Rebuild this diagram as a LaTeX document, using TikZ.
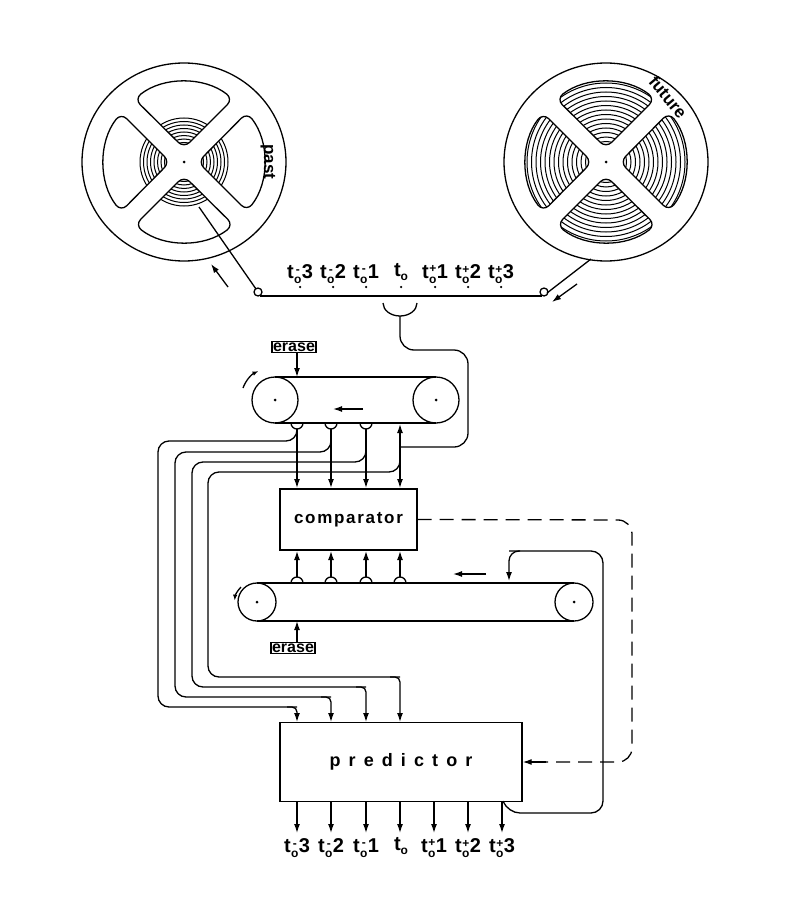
\documentclass[tikz,border=0pt]{standalone}
\usepackage{fontspec}
\setmainfont{Liberation Sans}
\usetikzlibrary{arrows.meta}
\newcommand\subsz{\fontsize{12}{12}\selectfont}
\newcommand\tlab[2]{t\makebox[0.4em][c]{\smash{\raisebox{-0.45ex}{\subsz o}}}\hspace{-0.4em}\makebox[0.4em][c]{\raisebox{0.55ex}{\subsz #1}}#2}
\newcommand\tzero{t\raisebox{-0.45ex}{\subsz o}}
\newcommand\lobepath{(14,0) -- (63,49) arc[start angle=38,end angle=-38,radius=80] -- cycle}
\begin{document}
\begin{tikzpicture}[x=1pt,y=-1pt,line width=1.3pt,
  arr/.style={-{Latex[length=9pt,width=6pt]}},
  lab/.style={font=\bfseries\fontsize{20}{20}\selectfont,inner sep=0pt},
  box/.style={draw,rectangle,inner sep=0pt},
  erase/.style={draw,font=\bfseries\fontsize{16}{16}\selectfont,inner sep=1.2pt,line width=1.3pt},
  dot/.style={circle,fill,inner sep=0pt,minimum size=3pt}]
\useasboundingbox (0,0) rectangle (800,915);
% ---------- past reel
\draw (184,162) ellipse[x radius=102,y radius=99];
\begin{scope}[shift={(184,162)}]
  \foreach \k in {0,90,180,270}{
    \begin{scope}[rotate=\k]
      \draw[rounded corners=8pt] \lobepath;
      \begin{scope}
        \clip[rounded corners=8pt] \lobepath;
        \foreach \r in {16,19.5,...,44} \draw[line width=1pt] (0,0) circle[radius=\r];
      \end{scope}
    \end{scope}}
  \node[dot] at (0,0) {};
\end{scope}
\draw (199,207) -- (256,289);
\node[font=\bfseries\fontsize{17}{17}\selectfont,rotate=-90] (past) at (268,162) {past};
% ---------- future reel
\draw (606,162) ellipse[x radius=102,y radius=99];
\begin{scope}[shift={(606,162)}]
  \foreach \k in {0,90,180,270}{
    \begin{scope}[rotate=\k]
      \draw[rounded corners=8pt] \lobepath;
      \begin{scope}
        \clip[rounded corners=8pt] \lobepath;
        \foreach \r in {16,20.5,...,84} \draw[line width=1pt] (0,0) circle[radius=\r];
      \end{scope}
    \end{scope}}
  \node[dot] at (0,0) {};
\end{scope}
\node[font=\bfseries\fontsize{17}{17}\selectfont,rotate=-50] (future) at (668,97) {future};
% ---------- tape
\draw (258,292) circle[radius=4];
\draw (544,292) circle[radius=4];
\draw (260,296) -- (542,296);
\draw (547,293) -- (591,259);
\draw[arr] (228,287) -- (211,264);
\draw[arr] (577,284) -- (552,302);
\foreach \x/\s/\n in {300/-/3,333/-/2,366/-/1,435/+/1,468/+/2,501/+/3}{
  \node[lab] at (\x,272) {\tlab{\s}{\n}};
  \node[dot,minimum size=2.5pt] at (\x,287) {};}
\node[lab] at (401,272) {\tzero};
\node[dot,minimum size=2.5pt] at (401,287) {};
% tape read head
\draw (383,303) arc[start angle=180,end angle=0,x radius=17,y radius=13];
\draw[rounded corners=14pt] (400,316) -- (400,350) -- (468,350) -- (468,447) -- (400,447);
% ---------- top loop
\draw (275,400) circle[radius=23]; \node[dot] at (275,400) {};
\draw (436,400) circle[radius=23]; \node[dot] at (436,400) {};
\draw (275,377) -- (436,377); \draw (275,423) -- (436,423);
\draw[arr] (363,409) -- (333,409);
\draw[-{Latex[length=6pt,width=4.5pt]}] (243,388) arc[start angle=200,end angle=245,radius=30];
\node[erase] (erase1) at (294,347) {erase};
\draw[arr] (erase1.south -| 297,0) -- (297,377);
\foreach \x in {297,331,366}{
  \draw (\x-6,423) arc[start angle=180,end angle=0,radius=6];
  \draw[arr] (\x,429) -- (\x,488);}
\draw[arr] (400,447) -- (400,424);
\draw[arr] (400,445) -- (400,488);
% comparator
\node[box,minimum width=137pt,minimum height=61pt,font=\bfseries\fontsize{17}{17}\selectfont\addfontfeature{LetterSpace=10}] (comp) at (348.5,519.5) {comparator};
% loops to predictor
\draw[rounded corners=11pt] (297,429) -- (297,441) -- (158,441) -- (158,707) -- (297,707);
\draw[rounded corners=11pt] (331,429) -- (331,452) -- (175,452) -- (175,697) -- (331,697);
\draw[rounded corners=11pt] (366,429) -- (366,462) -- (192,462) -- (192,687) -- (366,687);
\draw[rounded corners=11pt] (400,450) -- (400,472) -- (208,472) -- (208,677) -- (400,677);
\foreach \x/\y in {297/707,331/697,366/687,400/677} \draw[arr,rounded corners=5pt] (\x-10,\y) -- (\x,\y) -- (\x,722);
% ---------- lower loop
\draw (257,602) circle[radius=19]; \node[dot] at (257,602) {};
\draw (574,602) circle[radius=19]; \node[dot] at (574,602) {};
\draw (257,583) -- (574,583); \draw (257,621) -- (574,621);
\draw[arr] (486,574) -- (453,574);
\draw[-{Latex[length=6pt,width=4.5pt]}] (241,587) arc[start angle=225,end angle=185,radius=22];
\node[erase] (erase2) at (293,648) {erase};
\draw[arr] (erase2.north -| 297,0) -- (297,621);
\foreach \x in {297,331,366,400}{
  \draw (\x-6,583) arc[start angle=180,end angle=360,radius=6];
  \draw[arr] (\x,577) -- (\x,551);}
% predictor
\node[box,minimum width=242pt,minimum height=79pt,font=\bfseries\fontsize{18}{18}\selectfont\addfontfeature{LetterSpace=45}] (pred) at (401,762) {predictor};
\draw[rounded corners=12pt] (503,801) -- (508,813) -- (603,813) -- (603,551) -- (509,551);
\draw[arr,rounded corners=10pt] (520,551) -- (509,551) -- (509,581);
% dashed feedback
\draw[dashed,dash pattern=on 14pt off 8pt,rounded corners=14pt] (comp.east) -- (632,520) -- (632,762) -- (540,762);
\draw[arr] (546,762) -- (pred.east);
% outputs
\foreach \x/\s/\n in {297/-/3,331/-/2,366/-/1,434/+/1,468/+/2,502/+/3}{
  \draw[arr] (\x,801) -- (\x,833);
  \node[lab] at (\x,846) {\tlab{\s}{\n}};}
\draw[arr] (400,801) -- (400,833);
\node[lab] at (401,846) {\tzero};
\end{tikzpicture}
\end{document}
